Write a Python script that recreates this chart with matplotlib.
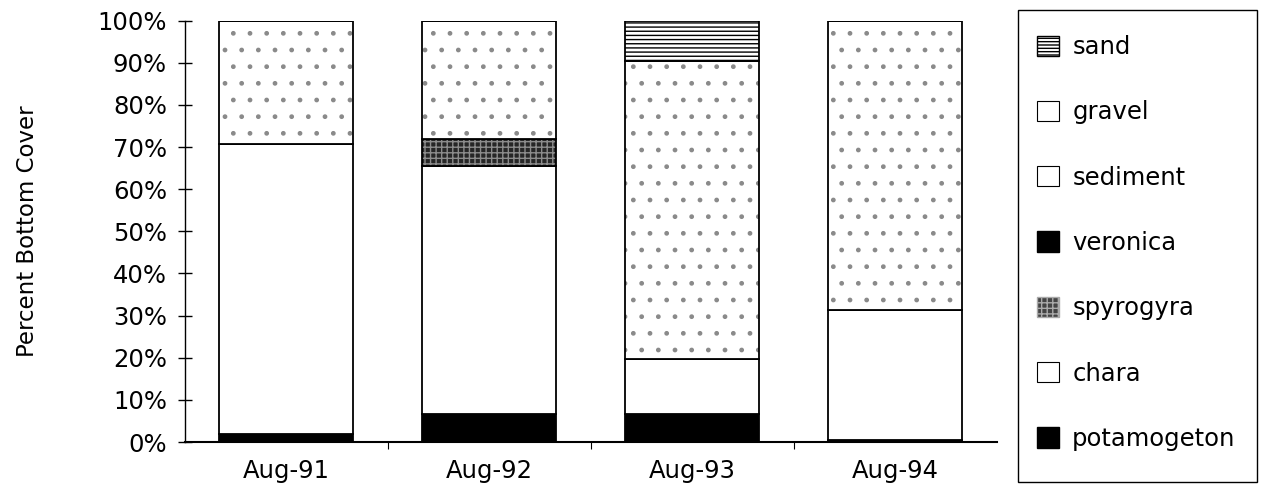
import numpy as np
import matplotlib
matplotlib.use('Agg')
import matplotlib.pyplot as plt
from matplotlib.patches import Patch, Rectangle

dates = ['Aug-91', 'Aug-92', 'Aug-93', 'Aug-94']
potamogeton = [2.0, 6.7, 6.6, 0.4]
chara = [68.7, 58.9, 13.0, 31.0]
spyrogyra = [0.0, 6.4, 0.0, 0.0]
veronica = [0.0, 0.0, 0.0, 0.0]
sediment = [29.3, 28.0, 70.9, 68.6]
gravel = [0.0, 0.0, 0.0, 0.0]
sand = [0.0, 0.0, 9.5, 0.0]

# bottom -> top stacking order, with (face, hatch colour, hatch)
layers = [
    ('potamogeton', potamogeton, 'black', 'black', None),
    ('chara', chara, 'white', 'black', None),
    ('spyrogyra', spyrogyra, '#262626', '#8c8c8c', '+++'),
    ('veronica', veronica, 'black', 'black', None),
    ('sediment', sediment, 'white', '#8a8a8a', '.'),
    ('gravel', gravel, 'white', 'black', None),
    ('sand', sand, 'white', 'black', '----'),
]

plt.rcParams['hatch.linewidth'] = 1.0
fig = plt.figure(figsize=(12.61, 5.0), dpi=100)
ax = fig.add_axes([0.1467, 0.116, 0.6439, 0.8426])

x = np.arange(len(dates))
w = 0.66
bottom = np.zeros(len(dates))
for name, vals, face, hcol, hatch in layers:
    vals = np.array(vals)
    # hatch pass (colour comes from edgecolor), then black outline
    ax.bar(x, vals, w, bottom=bottom, color=face, edgecolor=hcol,
           hatch=hatch, linewidth=0)
    ax.bar(x, vals, w, bottom=bottom, fill=False, edgecolor='black',
           linewidth=1.3)
    bottom += vals

ax.set_xlim(-0.5, 3.5)
ax.set_ylim(0, 100)
ax.set_yticks(np.arange(0, 101, 10))
ax.set_yticklabels([f'{v}%' for v in range(0, 101, 10)])
ax.set_xticks(x)
ax.set_xticklabels(dates)
ax.set_xticks([0.5, 1.5, 2.5], minor=True)
ax.tick_params(axis='y', direction='inout', length=10, width=1, labelsize=17.5, pad=8)
ax.tick_params(axis='x', which='major', length=0, labelsize=17.5, pad=12)
ax.tick_params(axis='x', which='minor', direction='out', length=5, width=0.8)
ax.spines['top'].set_visible(False)
ax.spines['right'].set_visible(False)
ax.spines['left'].set_linewidth(1.0)
ax.spines['bottom'].set_linewidth(1.5)
ax.set_ylabel('Percent Bottom Cover', fontsize=16.5, labelpad=42)

handles = [
    Patch(facecolor='white', edgecolor='black', hatch='-----', label='sand'),
    Patch(facecolor='white', edgecolor='black', linewidth=0.8, label='gravel'),
    Patch(facecolor='white', edgecolor='black', linewidth=0.8, label='sediment'),
    Patch(facecolor='black', edgecolor='black', label='veronica'),
    Patch(facecolor='#444444', edgecolor='#aaaaaa', hatch='+++', label='spyrogyra'),
    Patch(facecolor='white', edgecolor='black', linewidth=0.8, label='chara'),
    Patch(facecolor='black', edgecolor='black', label='potamogeton'),
]
leg = fig.legend(handles=handles, loc='upper left', bbox_to_anchor=(1037 / 1261, 0.93),
                 fontsize=17.5, frameon=False,
                 labelspacing=1.7, handlelength=0.9, handleheight=0.9,
                 handletextpad=0.55, borderpad=0, borderaxespad=0)
# legend box drawn separately so it can be taller than the entries
fig.patches.append(Rectangle((1018 / 1261, 18 / 500), 239 / 1261, 472 / 500,
                             transform=fig.transFigure, fill=False,
                             edgecolor='black', linewidth=1.0))

fig.savefig('out.png', dpi=100)
